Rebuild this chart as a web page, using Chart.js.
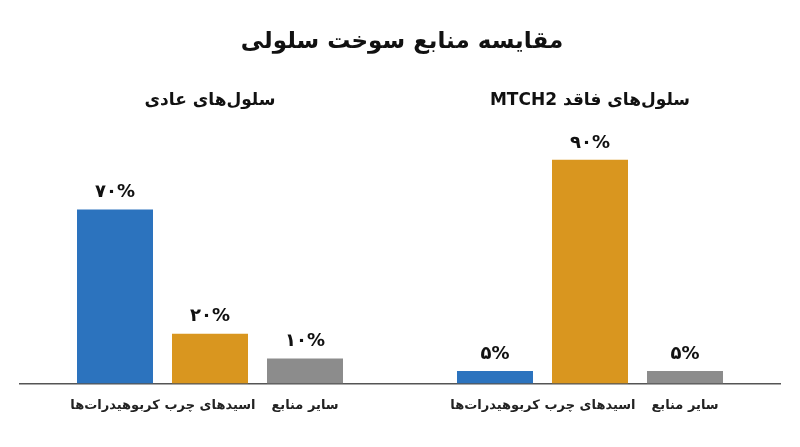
<!DOCTYPE html>
<html>
<head>
<meta charset="utf-8">
<script src="https://cdn.jsdelivr.net/npm/chart.js@4/dist/chart.umd.min.js"></script>
<style>
  html, body { margin: 0; padding: 0; background: #fff; }
  #wrap { width: 800px; height: 447px; }
</style>
</head>
<body>
<div id="wrap"><canvas id="fuelChart"></canvas></div>
<script>
// data
const sources = ['کربوهیدرات\u200cها', 'اسیدهای چرب', 'سایر منابع'];
const normalCells = [70, 20, 10];
const mtch2Cells = [5, 90, 5];
const groupTitles = ['سلول\u200cهای عادی', 'سلول\u200cهای فاقد MTCH2'];
const colors = ['#2c73be', '#d9961f', '#8c8c8c'];

const FONT = '"DejaVu Sans", "Noto Sans", sans-serif';
const faDigits = n => String(n).replace(/\d/g, d => '۰۱۲۳۴۵۶۷۸۹'[d]);

// one category axis: empty slot, 3 bars, empty slot, 3 bars, empty slot
const labels = ['', ...sources, '', ...sources, ''];
const values = [null, ...normalCells, null, ...mtch2Cells, null];
const barColors = ['#fff', ...colors, '#fff', ...colors, '#fff'];

const panelTitles = {
  id: 'panelTitles',
  afterDraw(chart) {
    const ctx = chart.ctx;
    const x = chart.scales.x;
    ctx.save();
    ctx.direction = 'rtl';
    ctx.textAlign = 'center';
    ctx.textBaseline = 'middle';
    ctx.fillStyle = '#111';
    ctx.font = 'bold 23px ' + FONT;
    ctx.fillText('مقایسه منابع سوخت سلولی', 402, 42);
    ctx.font = 'bold 17px ' + FONT;
    ctx.fillText(groupTitles[0], x.getPixelForValue(2), 101);
    ctx.fillText(groupTitles[1], x.getPixelForValue(6), 101);
    ctx.restore();
  }
};

const valueLabels = {
  id: 'valueLabels',
  afterDatasetsDraw(chart) {
    const ctx = chart.ctx;
    const meta = chart.getDatasetMeta(0);
    ctx.save();
    ctx.direction = 'ltr';
    ctx.textAlign = 'center';
    ctx.textBaseline = 'middle';
    ctx.fillStyle = '#111';
    ctx.font = 'bold 18px ' + FONT;
    meta.data.forEach((bar, i) => {
      const v = values[i];
      if (v == null) return;
      ctx.fillText(faDigits(v) + '%', bar.x, bar.y - 17);
    });
    ctx.restore();
  }
};

new Chart(document.getElementById('fuelChart'), {
  type: 'bar',
  data: {
    labels: labels,
    datasets: [{
      data: values,
      backgroundColor: barColors,
      barPercentage: 0.8,
      categoryPercentage: 1.0
    }]
  },
  options: {
    responsive: true,
    maintainAspectRatio: false,
    animation: false,
    layout: { padding: { top: 135, left: 20, right: 20, bottom: 28 } },
    plugins: {
      legend: { display: false },
      tooltip: { enabled: false },
      title: { display: false }
    },
    scales: {
      x: {
        offset: false,
        grid: { display: false },
        border: { display: true, color: '#555', width: 1.5 },
        ticks: {
          autoSkip: false,
          maxRotation: 0,
          padding: 6,
          color: '#222',
          font: { family: FONT, size: 13, weight: 'bold' }
        }
      },
      y: {
        display: false,
        min: 0,
        max: 100
      }
    }
  },
  plugins: [panelTitles, valueLabels]
});
</script>
</body>
</html>
